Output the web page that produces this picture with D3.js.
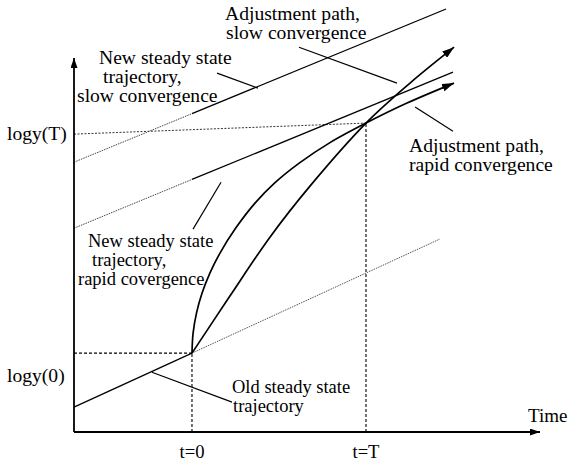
<!DOCTYPE html>
<html><head><meta charset="utf-8">
<script src="https://cdn.jsdelivr.net/npm/d3@7"></script>
<style>
html,body{margin:0;padding:0;background:#fff;}
</style></head>
<body><svg id="c" width="571" height="466"></svg>
<script>
// ---- data (t: time, T = 10 ; v: log y, logy(0)=0, logy(T)=10) ----
const axisT = [-6.78, 20];
const axisV = [-3.43, 12.83];
const tickT = [{t:0, label:"t=0"}, {t:10, label:"t=T"}];
const tickV = [{v:0, label:"logy(0)"}, {v:10, label:"logy(T)"}];

const oldSSsolid  = [[-6.78,-2.35],[0,0]];
const oldSSdotted = [[0,0],[14.25,4.96]];
const logyTguide  = [[-6.78,9.52],[10,10]];
const rapidNSSdotted = [[-6.78,5.43],[0,7.55]];
const rapidNSSsolid  = [[0,7.55],[15.0,12.22]];
const slowNSSdotted  = [[-6.78,8.30],[0,10.41]];
const slowNSSsolid   = [[0,10.41],[14.6,14.96]];

const slowPathT = [0, 2.18, 4.48, 6.78, 10, 12.53, 15.06];
const slowPathV = [0, 2.48, 5.04, 7.26, 10, 11.74, 13.30];
const rapidPathT = [0, 0.064, 0.259, 0.580, 1.029, 1.609, 2.514, 3.621, 4.741, 6.161, 7.885, 10, 12.356, 15.057];
const rapidPathV = [0, 0.870, 1.739, 2.609, 3.478, 4.348, 5.435, 6.522, 7.391, 8.261, 9.130, 10, 10.870, 11.739];

const leaders = [
  [[1.44,12.17],[3.79,11.52]],
  [[6.15,13.30],[11.78,11.74]],
  [[12.82,10.70],[15.0,9.65]],
  [[1.67,7.43],[0.06,5.39]],
  [[-2.30,-0.83],[2.30,-2.13]]
];

const labels = [
  {lines:["Adjustment path,","slow convergence"], x:[225,226], y:20, lh:19, fs:19.6},
  {lines:["New steady state","trajectory,","slow convergence"], x:[99,103,77], y:64, lh:19, fs:19.6},
  {lines:["New steady state","trajectory,","rapid covergence"], x:[88,92,78], y:247, lh:19, fs:18.5},
  {lines:["Old steady state","trajectory"], x:[232,233], y:393, lh:19, fs:18.5},
  {lines:["Adjustment path,","rapid convergence"], x:[409,409], y:152, lh:19, fs:19.6}
];

// ---- drawing ----
const FONT = "'Liberation Serif', Tinos, 'Times New Roman', Times, 'DejaVu Serif', serif";
const svg = d3.select("#c").attr("font-family", FONT);
const x = d3.scaleLinear().domain(axisT).range([74, 540]);
const y = d3.scaleLinear().domain(axisV).range([432, 58]);

const defs = svg.append("defs");
defs.append("marker").attr("id","arr").attr("viewBox","0 0 12 8")
  .attr("refX",12).attr("refY",4).attr("markerWidth",12).attr("markerHeight",8)
  .attr("markerUnits","userSpaceOnUse").attr("orient","auto")
  .append("path").attr("d","M0,0 L12,4 L0,8 Z").attr("fill","#000");
defs.append("marker").attr("id","arrS").attr("viewBox","0 0 10 7")
  .attr("refX",10).attr("refY",3.5).attr("markerWidth",10).attr("markerHeight",7)
  .attr("markerUnits","userSpaceOnUse").attr("orient","auto")
  .append("path").attr("d","M0,0 L10,3.5 L0,7 Z").attr("fill","#000");

const line = d3.line().x(d=>x(d[0])).y(d=>y(d[1]));
const curve = d3.line().x(d=>x(d[0])).y(d=>y(d[1])).curve(d3.curveCatmullRom.alpha(0.5));

function seg(pts, w, dash, col){
  const p = svg.append("path").attr("d", line(pts)).attr("fill","none")
    .attr("stroke", col||"#000").attr("stroke-width", w);
  if (dash) p.attr("stroke-dasharray", dash);
  return p;
}

// guides
seg(logyTguide, 1, "2,1.5", "#333");
seg(oldSSdotted, 1, "1.5,1", "#555");
seg(rapidNSSdotted, 1, "1.5,1", "#444");
seg(slowNSSdotted, 1, "1.5,1", "#444");
// dashed reference lines
seg([[axisT[0],0],[0,0]], 1.1, "3,2");
seg([[0,axisV[0]],[0,0]], 1.1, "3,2");
seg([[10,axisV[0]],[10,10]], 1.1, "3,2");

// solid lines
seg(oldSSsolid, 1.3);
seg(rapidNSSsolid, 1.3);
seg(slowNSSsolid, 1.3);

// adjustment paths
svg.append("path").attr("d", curve(slowPathT.map((t,i)=>[t, slowPathV[i]])))
  .attr("fill","none").attr("stroke","#000").attr("stroke-width",1.7).attr("marker-end","url(#arr)");
svg.append("path").attr("d", curve(rapidPathT.map((t,i)=>[t, rapidPathV[i]])))
  .attr("fill","none").attr("stroke","#000").attr("stroke-width",1.7).attr("marker-end","url(#arr)");

// leaders
leaders.forEach(l => seg(l, 1.2));

// axes
svg.append("path").attr("d", line([[axisT[0],axisV[0]],[axisT[0],axisV[1]]]))
  .attr("stroke","#000").attr("stroke-width",1.8).attr("marker-end","url(#arrS)");
svg.append("path").attr("d", line([[axisT[0],axisV[0]],[axisT[1],axisV[0]]]))
  .attr("stroke","#000").attr("stroke-width",1.8).attr("marker-end","url(#arrS)");

// tick labels
tickT.forEach(d => svg.append("text").attr("x", x(d.t)).attr("y", 458)
  .attr("text-anchor","middle").attr("font-size",18.6).text(d.label));
tickV.forEach(d => svg.append("text").attr("x", 7).attr("y", y(d.v)+(d.v===0?29:17))
  .attr("font-size",19.6).text(d.label));
svg.append("text").attr("x",528).attr("y",422).attr("font-size",19).text("Time");

// annotation labels (one text element per label, lines as tspans)
labels.forEach(l => {
  const t = svg.append("text").attr("font-size", l.fs).attr("x", l.x[0]).attr("y", l.y);
  l.lines.forEach((s,i) => t.append("tspan").attr("x", l.x[i]).attr("y", l.y + i*l.lh).text(s));
});
</script></body></html>
